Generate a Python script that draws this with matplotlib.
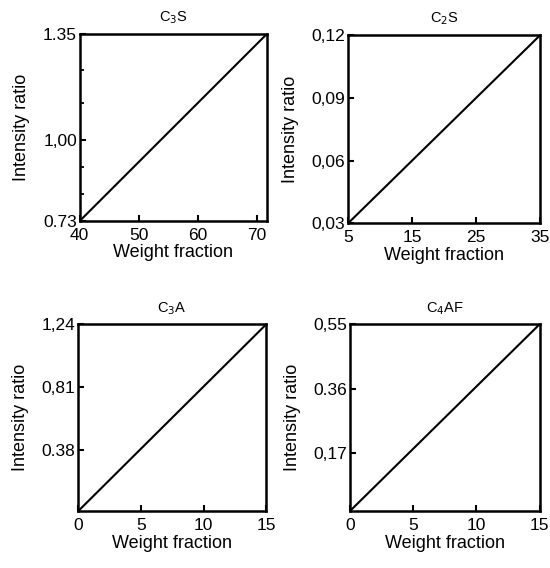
import matplotlib
matplotlib.use('Agg')
import matplotlib.pyplot as plt

plt.rcParams['font.family'] = ['Liberation Sans', 'DejaVu Sans']

# compound names (titles)
titles = ['C$_3$S', 'C$_2$S', 'C$_3$A', 'C$_4$AF']

# calibration line end points: weight fraction -> intensity ratio
x_c3s = [40, 71.7]
y_c3s = [0.73, 1.35]
x_c2s = [5, 35]
y_c2s = [0.03, 0.12]
x_c3a = [0, 15]
y_c3a = [-0.04, 1.24]
x_c4af = [0, 15]
y_c4af = [0.0, 0.55]

xticks_c3s = [40, 50, 60, 70]
yticks_c3s = [0.73, 1.00, 1.35]
ylabels_c3s = ['0.73', '1,00', '1.35']
yminor_c3s = [0.82, 0.91, 1.12, 1.23]
xticks_c2s = [5, 15, 25, 35]
yticks_c2s = [0.03, 0.06, 0.09, 0.12]
ylabels_c2s = ['0,03', '0,06', '0,09', '0,12']
yminor_c2s = []
xticks_c3a = [0, 5, 10, 15]
yticks_c3a = [0.38, 0.81, 1.24]
ylabels_c3a = ['0.38', '0,81', '1,24']
yminor_c3a = []
xticks_c4af = [0, 5, 10, 15]
yticks_c4af = [0.17, 0.36, 0.55]
ylabels_c4af = ['0,17', '0.36', '0,55']
yminor_c4af = []

panels = [
    (x_c3s, y_c3s, xticks_c3s, yticks_c3s, ylabels_c3s, yminor_c3s),
    (x_c2s, y_c2s, xticks_c2s, yticks_c2s, ylabels_c2s, yminor_c2s),
    (x_c3a, y_c3a, xticks_c3a, yticks_c3a, ylabels_c3a, yminor_c3a),
    (x_c4af, y_c4af, xticks_c4af, yticks_c4af, ylabels_c4af, yminor_c4af),
]

rects = [
    [0.145, 0.611, 0.340, 0.329],
    [0.633, 0.607, 0.349, 0.331],
    [0.142, 0.100, 0.342, 0.329],
    [0.636, 0.100, 0.345, 0.329],
]

fig = plt.figure(figsize=(5.5, 5.68), dpi=100)

for i, (xs, ys, xt, yt, yl, ym) in enumerate(panels):
    ax = fig.add_axes(rects[i])
    ax.plot(xs, ys, color='black', lw=1.5)
    ax.set_xlim(xs[0], xs[1])
    ax.set_ylim(ys[0], ys[1])
    ax.set_xticks(xt)
    ax.set_xticklabels([str(v) for v in xt])
    ax.set_yticks(yt)
    ax.set_yticklabels(yl)
    if ym:
        ax.set_yticks(ym, minor=True)
    ax.tick_params(direction='in', length=4, width=1.5, labelsize=12.5)
    ax.tick_params(axis='x', pad=5)
    ax.tick_params(axis='y', pad=2)
    ax.tick_params(which='minor', direction='in', length=3, width=1.3)
    for sp in ax.spines.values():
        sp.set_linewidth(1.8)
    ax.set_title(titles[i], fontsize=10.5, pad=9)
    ax.set_xlabel('Weight fraction', fontsize=13, labelpad=1)
    ax.set_ylabel('Intensity ratio', fontsize=13, labelpad=9)

plt.savefig('out.png', dpi=100)
plt.close()
